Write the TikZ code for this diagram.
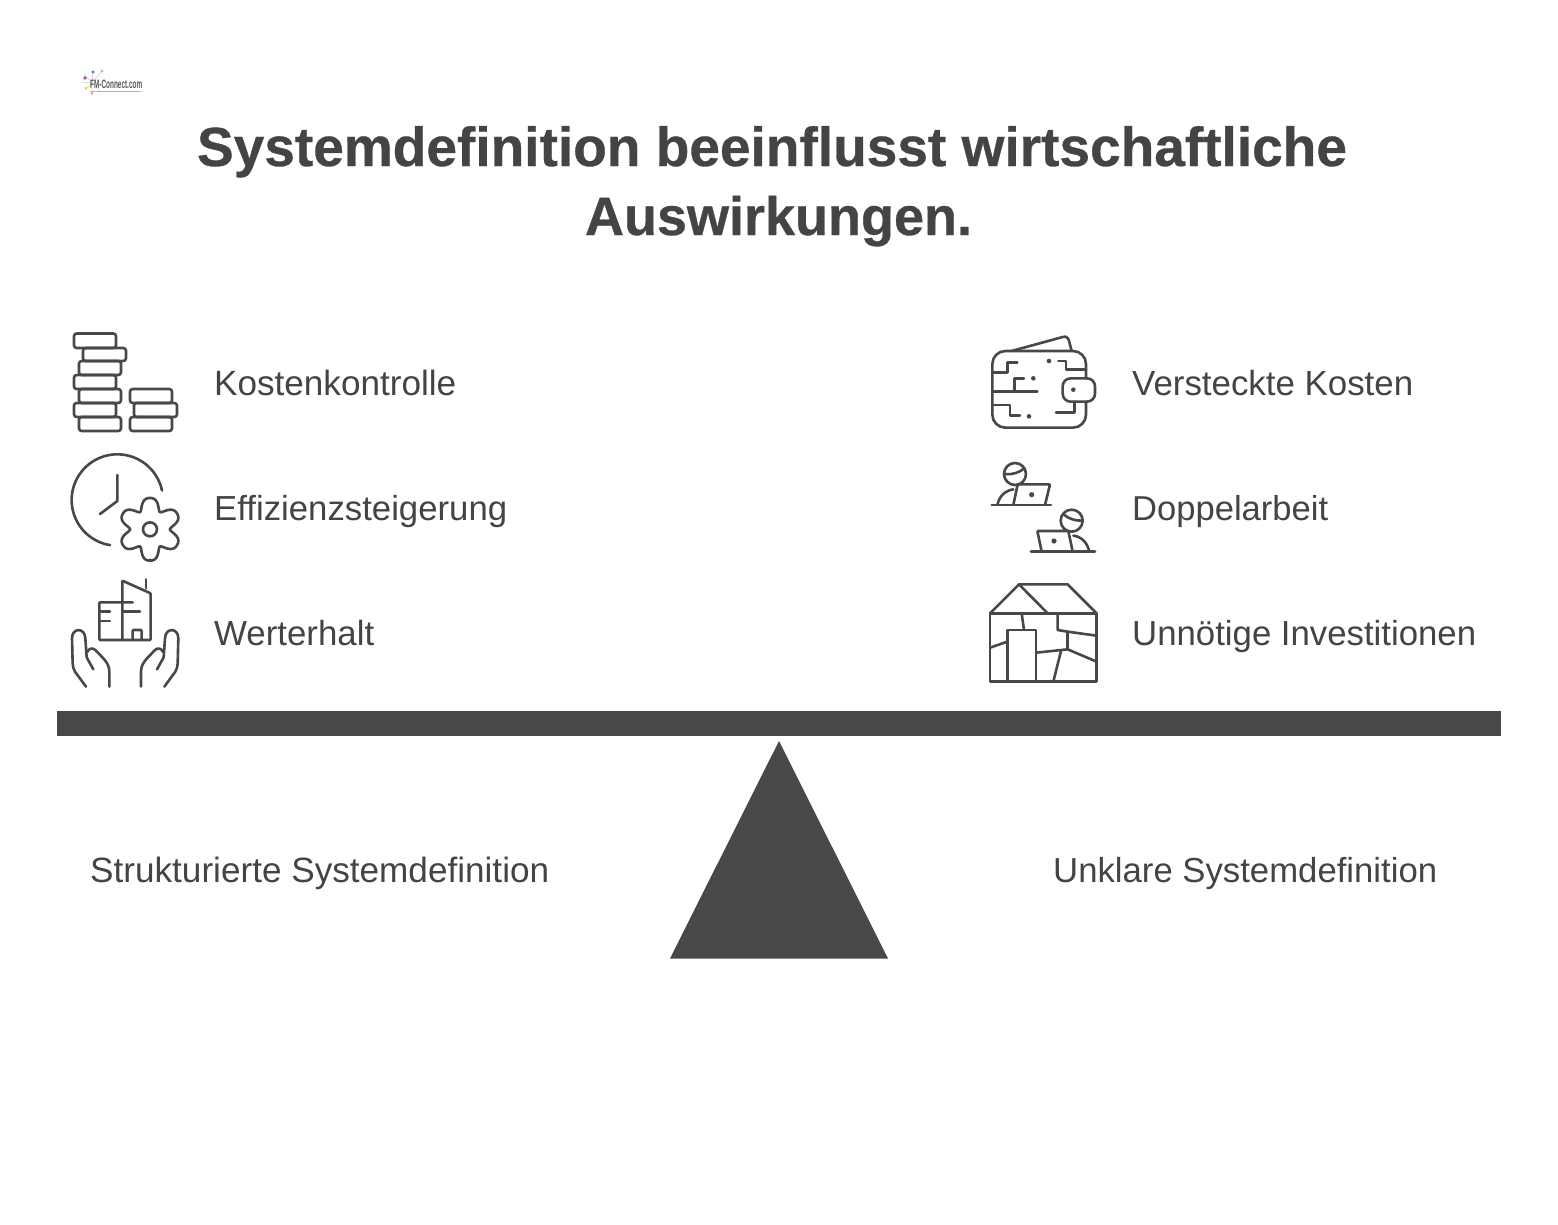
\documentclass[tikz,border=0pt]{standalone}
\usepackage{fontspec}
\usepackage{graphicx}
\setmainfont{Liberation Sans}
\definecolor{ink}{HTML}{484848}
\definecolor{txt}{HTML}{444444}
\newcommand{\fitw}[2]{\resizebox{#1pt}{!}{#2}}
\tikzset{
  icon/.style={draw=ink,line width=2.6pt,line join=round,line cap=round,rounded corners=0.8pt},
  coin/.style={icon,rounded corners=2.6pt},
  dotmark/.style={fill=ink,draw=none},
  label/.style={anchor=base west,inner sep=0pt,text=txt,font=\fontsize{34}{40}\selectfont},
  head/.style={anchor=base,inner sep=0pt,text=txt,font=\fontsize{56}{60}\selectfont\bfseries\addfontfeature{FakeBold=0.6}},
  zoomed/.style={x=0.33333pt,y=-0.33333pt}
}
\begin{document}
\begin{tikzpicture}[x=1pt,y=-1pt]
\useasboundingbox (0,0) rectangle (1558,1224);
\fill[white] (0,0) rectangle (1558,1224);

% logo
\draw[gray!35,line width=0.6pt] (92,83) -- (84,74) (92,83) -- (93,70) (92,83) -- (103,70) (92,83) -- (85,90) (92,83) -- (92,96) (92,83) -- (101,92) (92,83) -- (81,82);
\fill[violet!70] (85,78) circle (1.8pt);
\fill[blue!60] (93,72) circle (1.6pt);
\fill[magenta!40] (102,71) circle (1.6pt);
\fill[yellow!80!orange] (86,88) circle (1.7pt);
\fill[red!40] (92,93) circle (1.5pt);
\node[anchor=base west,inner sep=0pt,text=txt!90] (logo) at (90,88.5) {\resizebox{52pt}{8.5pt}{\bfseries FM-Connect.com}};
\draw[gray!60,line width=1pt] (90,91) -- (141,91);

% title
\node[head] (t1) at (772,166) {\fitw{1150}{Systemdefinition beeinflusst wirtschaftliche}};
\node[head] (t2) at (778.5,235) {\fitw{387}{Auswirkungen.}};

% labels
\node[label] (l1) at (214,395) {\fitw{242}{Kostenkontrolle}};
\node[label] (l2) at (214,520) {\fitw{293}{Effizienzsteigerung}};
\node[label] (l3) at (214,645) {\fitw{160}{Werterhalt}};
\node[label] (r1) at (1132,395) {\fitw{281}{Versteckte Kosten}};
\node[label] (r2) at (1132,520) {\fitw{196}{Doppelarbeit}};
\node[label] (r3) at (1132,645) {\fitw{344}{Unnötige Investitionen}};
\node[label] (b1) at (90,882) {\fitw{459}{Strukturierte Systemdefinition}};
\node[label] (b2) at (1053,882) {\fitw{384}{Unklare Systemdefinition}};

% beam and fulcrum
\fill[ink] (57,711) rectangle (1501,736);
\fill[ink] (779,741) -- (888,958.5) -- (670,958.5) -- cycle;

% coins
\draw[coin] (74,333.5) rectangle (116,348);
\draw[coin] (83,348) rectangle (126,361);
\draw[coin] (79,361) rectangle (121,375);
\draw[coin] (74,375) rectangle (116,389);
\draw[coin] (79,389) rectangle (121,403);
\draw[coin] (74,403) rectangle (116,417);
\draw[coin] (79,417) rectangle (121,431);
\draw[coin] (130,389) rectangle (172,403);
\draw[coin] (134,403) rectangle (177,417);
\draw[coin] (130,417) rectangle (172,431);

% clock and gear
\begin{scope}[shift={(60,445)},zoomed]
\draw[icon] plot[domain=-12:-261,samples=90,smooth] ({172+137*cos(\x)},{165+137*sin(\x)});
\draw[icon,rounded corners=0pt] (172,90) -- (172,168) -- (120,207);
\draw[icon] plot[domain=0:360,samples=145,smooth] ({270+(80+17*cos(6*\x)-3*cos(12*\x))*cos(\x+90)},{253+(80+17*cos(6*\x)-3*cos(12*\x))*sin(\x+90)}) -- cycle;
\draw[icon] (270,253) circle (7pt);
\end{scope}

% building in hands
\begin{scope}[shift={(60,570)},zoomed]
\draw[icon] (187,210) -- (187,32) -- (272,70) -- (272,210) -- (118,210) -- (118,97) -- (218,97);
\draw[icon] (187,125) -- (240,125);
\draw[icon] (118,125) -- (150,125);
\draw[icon] (118,153) -- (150,153);
\draw[icon] (258,28) -- (258,55);
\draw[icon] (218,210) -- (218,180) -- (245,180) -- (245,210);
\draw[icon,rounded corners=0pt] (78,350) -- (45,305) .. controls (40,298) and (39,290) .. (38,280) -- (36,205) .. controls (36,172) and (75,172) .. (76,205) -- (80,262) -- (100,298);
\draw[icon,rounded corners=0pt] (82,246) .. controls (86,235) and (97,232) .. (106,240) -- (130,265) .. controls (142,278) and (148,290) .. (148,305) -- (148,350);
\draw[icon,rounded corners=0pt] (313,350) -- (346,305) .. controls (351,298) and (352,290) .. (353,280) -- (355,205) .. controls (355,172) and (316,172) .. (315,205) -- (311,262) -- (291,298);
\draw[icon,rounded corners=0pt] (309,246) .. controls (305,235) and (294,232) .. (285,240) -- (261,265) .. controls (249,278) and (243,290) .. (243,305) -- (243,350);
\end{scope}

% wallet
\begin{scope}[shift={(980,325)},zoomed]
\draw[icon,rounded corners=13pt] (318,160) -- (318,78) -- (37,78) -- (37,308) -- (318,308) -- (318,230);
\draw[icon,rounded corners=8pt] (248,160) rectangle (345,230);
\draw[icon,rounded corners=0pt] (95,78) -- (248,36) .. controls (258,33) and (264,38) .. (266,44) -- (275,78);
\draw[icon,rounded corners=0pt] (37,142) -- (83,142) -- (83,113) -- (112,113);
\draw[icon,rounded corners=0pt] (37,200) -- (172,200);
\draw[icon,rounded corners=0pt] (103,200) -- (103,160) -- (132,160);
\draw[icon,rounded corners=0pt] (37,240) -- (90,240) -- (90,272) -- (120,272);
\draw[icon,rounded corners=0pt] (235,108) -- (258,108) -- (258,133) -- (318,133);
\draw[icon,rounded corners=0pt] (228,262) -- (283,262) -- (283,230);
\fill[dotmark] (160,160) circle (2.3pt);
\fill[dotmark] (147,274) circle (2.3pt);
\fill[dotmark] (207,108) circle (2.3pt);
\fill[dotmark] (280,194) circle (2.3pt);
\end{scope}

% two workers
\begin{scope}[shift={(980,450)},zoomed]
\draw[icon] (105,72) circle (11pt);
\draw[icon,rounded corners=0pt] (75,72) .. controls (95,75) and (118,68) .. (133,55);
\draw[icon] (100,165) -- (113,103) -- (210,103) -- (195,165);
\draw[icon] (35,165) -- (213,165);
\draw[icon,rounded corners=0pt] (52,165) .. controls (58,138) and (75,122) .. (100,118);
\fill[dotmark] (155,134) circle (2.6pt);
\draw[icon] (275,212) circle (11pt);
\draw[icon,rounded corners=0pt] (250,192) .. controls (262,205) and (285,213) .. (307,212);
\draw[icon] (185,305) -- (172,243) -- (265,243) -- (278,305);
\draw[icon] (153,305) -- (345,305);
\draw[icon,rounded corners=0pt] (328,305) .. controls (322,278) and (305,260) .. (280,257);
\fill[dotmark] (222,273) circle (2.6pt);
\end{scope}

% broken house
\begin{scope}[shift={(980,575)},zoomed]
\draw[icon,rounded corners=0pt,line cap=butt] (30,115) rectangle (350,320);
\draw[icon,rounded corners=0pt] (30,115) -- (117,28) -- (263,28) -- (350,115);
\draw[icon,rounded corners=0pt] (117,28) -- (203,115);
\draw[icon,rounded corners=0pt] (125,115) -- (132,165);
\draw[icon,rounded corners=0pt] (82,320) -- (82,165) -- (168,165) -- (168,320);
\draw[icon,rounded corners=0pt] (30,218) -- (82,200);
\draw[icon,rounded corners=0pt] (168,233) -- (263,223) -- (350,260);
\draw[icon,rounded corners=0pt] (263,223) -- (263,170);
\draw[icon,rounded corners=0pt] (233,115) -- (233,165) -- (263,170) -- (350,182);
\draw[icon,rounded corners=0pt] (243,228) -- (220,320);
\end{scope}
\end{tikzpicture}
\end{document}
